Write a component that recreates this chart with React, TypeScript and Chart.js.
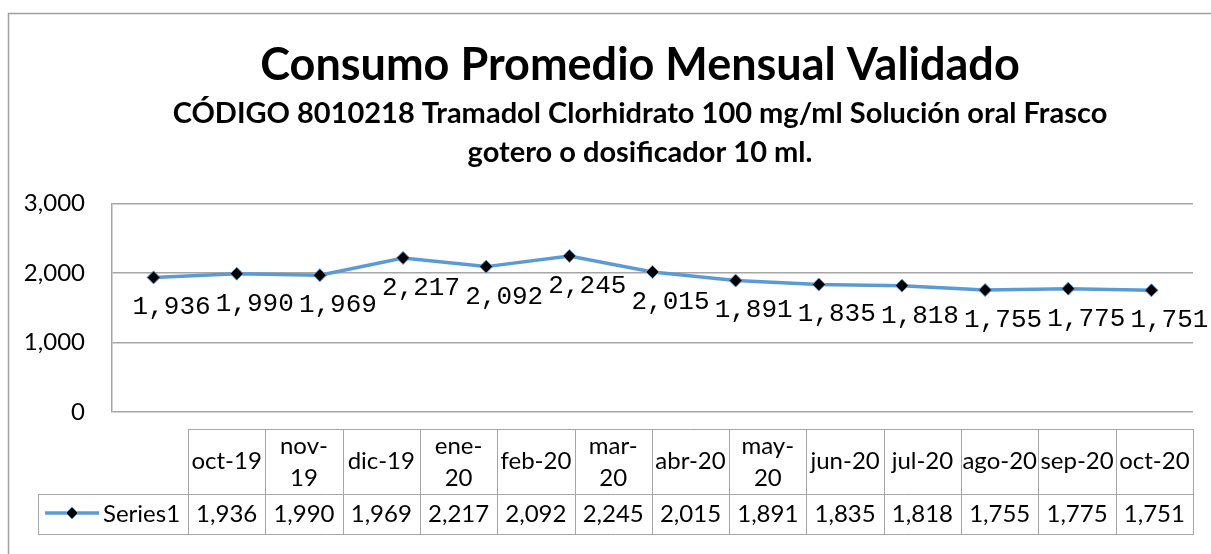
import React, { useEffect, useRef } from "react";
import { Chart, registerables } from "chart.js";

Chart.register(...registerables);

const categories = [
  "oct-19", "nov-19", "dic-19", "ene-20", "feb-20", "mar-20", "abr-20",
  "may-20", "jun-20", "jul-20", "ago-20", "sep-20", "oct-20",
];
const series1 = [1936, 1990, 1969, 2217, 2092, 2245, 2015, 1891, 1835, 1818, 1755, 1775, 1751];
const seriesName = "Series1";
const wrappedHeaders = ["nov-19", "ene-20", "mar-20", "may-20"];
const titleText = "Consumo Promedio Mensual Validado";
const subtitleLines = [
  "CÓDIGO 8010218 Tramadol Clorhidrato 100 mg/ml Solución oral Frasco",
  "gotero o dosificador 10 ml.",
];
const yTicks = [0, 1000, 2000, 3000];

const FONT = "Lato, 'Open Sans', sans-serif";
const LINE_BLUE = "#5B9BD5";
const GRID = "#a6a6a6";
const PAD_LEFT = 87;
const PLOT_LEFT = 112;

const fmt = (v: number) => v.toLocaleString("en-US");

const framePlugin = {
  id: "frame",
  afterLayout(chart: any) {
    // let the y-axis label area extend to the canvas edge (labels are right-aligned to the axis)
    const y = chart.scales.y;
    if (y) y.left = 0;
  },
  beforeDraw(chart: any) {
    const ctx = chart.ctx;
    ctx.save();
    ctx.fillStyle = "#ffffff";
    ctx.fillRect(0, 0, chart.width, chart.height);
    ctx.strokeStyle = "#a0a0a0";
    ctx.lineWidth = 1.5;
    ctx.strokeRect(8.5, 13.5, chart.width + 20, chart.height + 20);
    ctx.restore();
  },
};

const labelPlugin = {
  id: "pointLabels",
  afterDatasetsDraw(chart: any) {
    const ctx = chart.ctx;
    const meta = chart.getDatasetMeta(0);
    ctx.save();
    ctx.font = "26px 'Liberation Mono', 'DejaVu Sans Mono', monospace";
    ctx.fillStyle = "#000";
    ctx.textAlign = "center";
    ctx.textBaseline = "middle";
    meta.data.forEach((pt: any, i: number) => {
      ctx.fillText(fmt(series1[i]), pt.x + 18, pt.y + 30);
    });
    ctx.restore();
  },
};

const tablePlugin = {
  id: "dataTable",
  afterDraw(chart: any) {
    const ctx = chart.ctx;
    const area = chart.chartArea;
    const right = area.right;
    const tableLeft = 188;
    const legendLeft = 38;
    const top = 429;
    const mid = 494;
    const bottom = 534;
    const n = categories.length;
    const colW = (right - tableLeft) / n;
    ctx.save();
    ctx.strokeStyle = GRID;
    ctx.lineWidth = 1;
    const h = (y: number, x0: number, x1: number) => {
      ctx.beginPath();
      ctx.moveTo(x0, y + 0.5);
      ctx.lineTo(x1, y + 0.5);
      ctx.stroke();
    };
    const v = (x: number, y0: number, y1: number) => {
      ctx.beginPath();
      ctx.moveTo(Math.round(x) + 0.5, y0);
      ctx.lineTo(Math.round(x) + 0.5, y1);
      ctx.stroke();
    };
    h(top, tableLeft, right);
    h(mid, legendLeft, right);
    h(bottom, legendLeft, right);
    v(legendLeft, mid, bottom + 1);
    for (let i = 0; i <= n; i++) v(tableLeft + i * colW, top, bottom + 1);

    ctx.fillStyle = "#000";
    ctx.font = `24px ${FONT}`;
    ctx.textAlign = "center";
    ctx.textBaseline = "middle";
    categories.forEach((c, i) => {
      const cx = tableLeft + (i + 0.5) * colW;
      if (wrappedHeaders.includes(c)) {
        const k = c.indexOf("-");
        ctx.fillText(c.slice(0, k + 1), cx, 446);
        ctx.fillText(c.slice(k + 1), cx, 478);
      } else {
        ctx.fillText(c, cx, 461);
      }
      ctx.fillText(fmt(series1[i]), cx, 514);
    });

    // legend key
    ctx.strokeStyle = LINE_BLUE;
    ctx.lineWidth = 3.5;
    ctx.beginPath();
    ctx.moveTo(45, 513);
    ctx.lineTo(99, 513);
    ctx.stroke();
    ctx.beginPath();
    ctx.moveTo(72, 507);
    ctx.lineTo(78, 513);
    ctx.lineTo(72, 519);
    ctx.lineTo(66, 513);
    ctx.closePath();
    ctx.fillStyle = "#000";
    ctx.fill();
    ctx.lineWidth = 1;
    ctx.stroke();
    ctx.fillStyle = "#000";
    ctx.textAlign = "left";
    ctx.fillText(seriesName, 103, 514);
    ctx.restore();
  },
};

export default function App() {
  const ref = useRef<HTMLCanvasElement>(null);
  useEffect(() => {
    if (!ref.current) return;
    const chart = new Chart(ref.current, {
      type: "line",
      data: {
        labels: categories,
        datasets: [
          {
            label: seriesName,
            data: series1,
            borderColor: LINE_BLUE,
            borderWidth: 3.5,
            tension: 0,
            pointStyle: "rectRot",
            pointRadius: 6.5,
            pointBackgroundColor: "#000",
            pointBorderColor: LINE_BLUE,
            pointBorderWidth: 1,
          },
        ],
      },
      options: {
        responsive: false,
        animation: false,
        layout: { padding: { left: PAD_LEFT, right: 18, top: 0, bottom: 142 } },
        plugins: {
          legend: { display: false },
          tooltip: { enabled: false },
          title: {
            display: true,
            text: titleText,
            color: "#000",
            font: { family: FONT, size: 45, weight: "bold", lineHeight: 1.2 },
            padding: { top: 38, bottom: 0 },
          },
          subtitle: {
            display: true,
            text: subtitleLines,
            color: "#000",
            font: { family: FONT, size: 29, weight: "bold", lineHeight: 1.345 },
            padding: { top: 2, bottom: 31.5 },
          },
        },
        scales: {
          x: {
            display: false,
            offset: true,
          },
          y: {
            min: 0,
            max: 3000,
            afterFit(scale: any) {
              scale.width = PLOT_LEFT - PAD_LEFT;
            },
            afterBuildTicks(scale: any) {
              scale.ticks = yTicks.map((value) => ({ value }));
            },
            grid: { color: GRID, lineWidth: 1.5, drawTicks: false },
            border: { display: true, color: GRID, width: 1.5 },
            ticks: {
              padding: 27,
              color: "#000",
              font: { family: FONT, size: 24 },
              callback: (v: any) => fmt(Number(v)),
            },
          },
        },
      },
      plugins: [framePlugin, labelPlugin, tablePlugin],
    });
    return () => chart.destroy();
  }, []);
  return (
    <div style={{ position: "fixed", left: 0, top: 0, width: 1211, height: 554 }}>
      <canvas ref={ref} width={1211} height={554} />
    </div>
  );
}
